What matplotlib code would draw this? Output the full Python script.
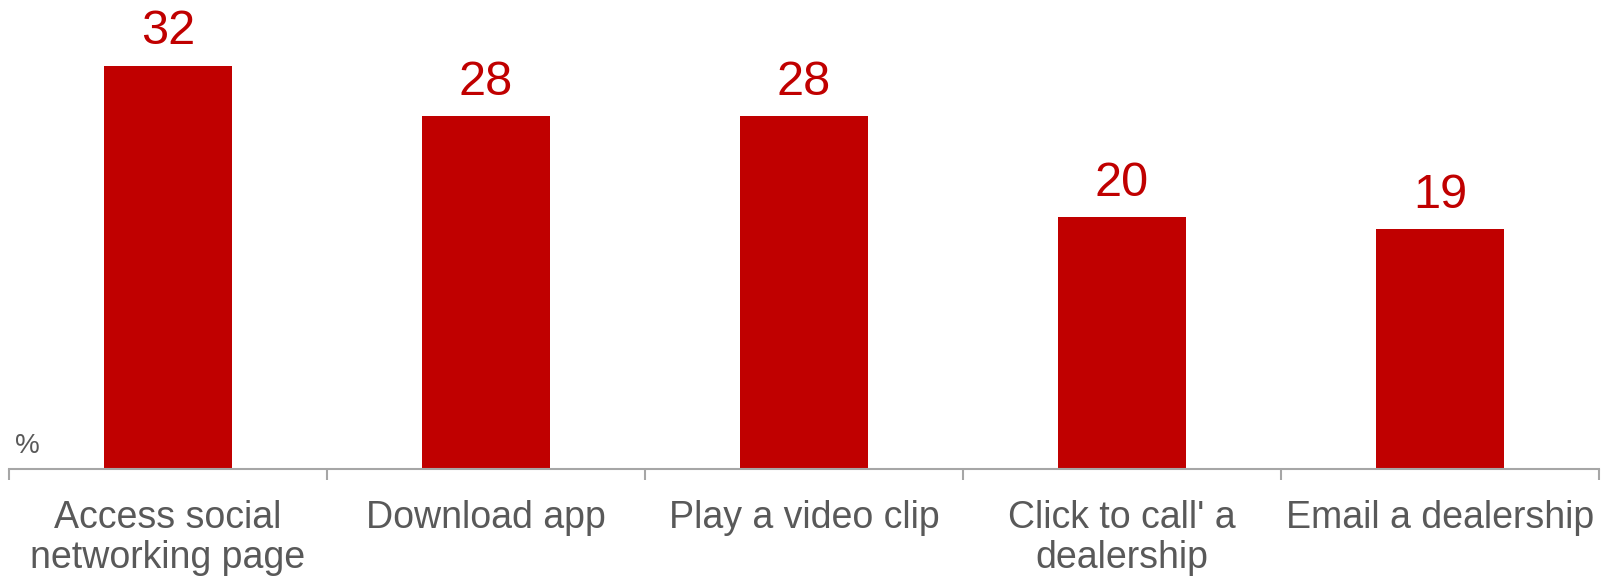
import matplotlib
matplotlib.use("Agg")
import matplotlib.pyplot as plt
import numpy as np

categories = ["Access social\nnetworking page", "Download app", "Play a video clip",
              "Click to call' a\ndealership", "Email a dealership"]
values = [32, 28, 28, 20, 19]

bar_color = "#C00000"
text_gray = "#595959"
axis_gray = "#A6A6A6"

plt.rcParams["font.family"] = ["Liberation Sans", "DejaVu Sans"]

fig = plt.figure(figsize=(16.05, 5.78), dpi=100)
ax = fig.add_axes([9 / 1605, 109 / 578, 1590 / 1605, 469 / 578])

x = np.arange(len(categories))
bars = ax.bar(x, values, width=0.4, color=bar_color)
ax.bar_label(bars, labels=[str(v) for v in values], padding=8,
             fontsize=35, color=bar_color)

ax.set_xlim(-0.5, len(categories) - 0.5)
ax.set_ylim(0, 37.2)

for side in ["top", "right", "left"]:
    ax.spines[side].set_visible(False)
ax.spines["bottom"].set_color(axis_gray)
ax.spines["bottom"].set_linewidth(1.5)
ax.set_yticks([])

ax.set_xticks(x)
ax.set_xticklabels(categories, fontsize=27, color=text_gray, linespacing=1.16)
ax.tick_params(axis="x", which="major", length=0, pad=22)
ax.set_xticks(np.arange(-0.5, len(categories)), minor=True)
ax.tick_params(axis="x", which="minor", length=8, width=1.5, color=axis_gray,
               direction="out")

ax.text(0.004, 0.022, "%", transform=ax.transAxes, fontsize=20,
        color=text_gray, ha="left", va="bottom")

fig.savefig("out.png", dpi=100)
